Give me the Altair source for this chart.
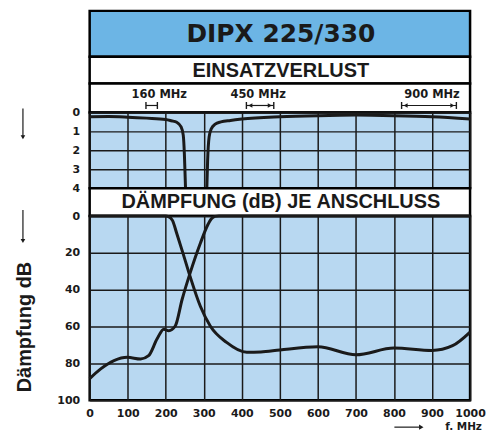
import altair as alt
import pandas as pd

# ---------------- data ----------------
ticks_x = [0, 100, 200, 300, 400, 500, 600, 700, 800, 900, 1000]
ticks_il = [0, 1, 2, 3, 4]
ticks_db = [0, 20, 40, 60, 80, 100]

# insertion loss (dB) - top panel
il_lp_f = [0, 50, 100, 150, 200, 215, 229, 240, 246, 249, 251, 252]
il_lp_v = [0.23, 0.22, 0.25, 0.3, 0.37, 0.44, 0.52, 0.75, 1.2, 2.2, 3.4, 4.0]
il_hp_f = [308, 310, 314, 320, 330, 345, 370, 400, 500, 600, 700, 800, 900, 1000]
il_hp_v = [4.0, 2.6, 1.3, 0.85, 0.62, 0.5, 0.42, 0.35, 0.23, 0.17, 0.14, 0.17, 0.23, 0.35]

# attenuation per port (dB) - bottom panel
at_lp_f = [0, 100, 200, 207, 218, 229, 245, 264, 291, 317, 360, 413, 450, 500, 600, 700, 800, 900, 954, 1000]
at_lp_v = [0, 0, 0, 0.3, 2.5, 9.5, 20, 32.8, 49, 59.7, 68.6, 74, 73.8, 72.7, 71, 75.3, 71.7, 73, 70.4, 63]
at_hp_f = [0, 29, 64, 99, 134, 155, 177, 195, 208, 225, 243, 264, 291, 310, 320, 330, 340, 500, 1000]
at_hp_v = [88.3, 83, 78.5, 76.7, 77.6, 75.8, 66.8, 61.4, 62.3, 59.7, 45.3, 31, 14.8, 5, 1.5, 0.2, 0, 0, 0]

# band markers
mk_lo = [148, 412, 820]
mk_hi = [178, 484, 964]
mk_lx = [183, 443, 900]
mk_lab = ["160 MHz", "450 MHz", "900 MHz"]
mk_arr = [False, True, True]

# ---------------- styling ----------------
W = 382
BLUE_DARK = "#6cb5e5"
BLUE_LIGHT = "#b8d8f1"
INK = "#1a1a1a"
NUMFONT = "DejaVu Sans"
SW = 2.5


def vbg(fill):
    return alt.ViewBackground(fill=fill, stroke="black", strokeWidth=SW)


def banner(text, h, size, font, fill, dy=0):
    return alt.Chart(pd.DataFrame({"t": [text]})).mark_text(
        font=font, fontSize=size, fontWeight="bold", color=INK,
        align="center", baseline="middle"
    ).encode(
        x=alt.value(W / 2 + 1), y=alt.value(h / 2 + dy), text="t:N"
    ).properties(width=W, height=h, view=vbg(fill))


xs = alt.Scale(domain=[0, 1000], nice=False)

# title panels
p_title = banner("DIPX 225/330", 46, 25, "DejaVu Sans", BLUE_DARK)
p_ein = banner("EINSATZVERLUST", 27, 20, "Liberation Sans", "white", 1)

# marker band
mk = pd.DataFrame({"lo": mk_lo, "hi": mk_hi, "lx": mk_lx, "lab": mk_lab, "arr": mk_arr})
mb = alt.Chart(mk)
m_line = mb.mark_rule(color=INK, strokeWidth=1.2).encode(
    x=alt.X("lo:Q", scale=xs, axis=None), x2="hi:Q", y=alt.value(22))
m_l = mb.mark_rule(color=INK, strokeWidth=1.4).encode(
    x=alt.X("lo:Q", scale=xs, axis=None), y=alt.value(18.5), y2=alt.value(25.5))
m_r = mb.mark_rule(color=INK, strokeWidth=1.4).encode(
    x=alt.X("hi:Q", scale=xs, axis=None), y=alt.value(18.5), y2=alt.value(25.5))
m_al = mb.transform_filter("datum.arr").mark_point(
    shape="triangle-left", filled=True, size=22, color=INK, opacity=1, xOffset=4
).encode(x=alt.X("lo:Q", scale=xs, axis=None), y=alt.value(22))
m_ar = mb.transform_filter("datum.arr").mark_point(
    shape="triangle-right", filled=True, size=22, color=INK, opacity=1, xOffset=-4
).encode(x=alt.X("hi:Q", scale=xs, axis=None), y=alt.value(22))
m_txt = mb.mark_text(font=NUMFONT, fontSize=11.5, fontWeight="bold", color=INK).encode(
    x=alt.X("lx:Q", scale=xs, axis=None), y=alt.value(11), text="lab:N")
p_mark = alt.layer(m_line, m_l, m_r, m_al, m_ar, m_txt).properties(
    width=W, height=29, view=vbg("white"))


def series_df(f1, v1, f2, v2):
    return pd.DataFrame({
        "f": f1 + f2,
        "v": v1 + v2,
        "s": ["a"] * len(f1) + ["b"] * len(f2),
        "i": list(range(len(f1))) + list(range(len(f2))),
    })


grid_kw = dict(grid=True, gridColor=INK, gridWidth=1.5, gridOpacity=1,
               ticks=False, domain=False, title=None)
lab_kw = dict(labelFont=NUMFONT, labelFontSize=11, labelFontWeight="bold",
              labelColor=INK, labelPadding=10)

one = pd.DataFrame({"a": [0]})


def down_arrow(y0, y1):
    r = alt.Chart(one).mark_rule(color=INK, strokeWidth=1.2).encode(
        x=alt.value(-67), y=alt.value(y0), y2=alt.value(y1))
    h = alt.Chart(one).mark_point(shape="triangle-down", filled=True, size=22,
                                  color=INK, opacity=1).encode(
        x=alt.value(-67), y=alt.value(y1 + 1))
    return [r, h]


# top panel: insertion loss
df_il = series_df(il_lp_f, il_lp_v, il_hp_f, il_hp_v)
il_line = alt.Chart(df_il).mark_line(color=INK, strokeWidth=3, interpolate="monotone").encode(
    x=alt.X("f:Q", scale=xs, axis=alt.Axis(values=ticks_x, labels=False, **grid_kw)),
    y=alt.Y("v:Q", scale=alt.Scale(domain=[0, 4], reverse=True, nice=False),
            axis=alt.Axis(values=ticks_il, format="d", **grid_kw, **lab_kw)),
    detail="s:N", order="i:Q")
p_il = alt.layer(il_line, *down_arrow(-4, 24)).properties(
    width=W, height=76, view=vbg(BLUE_LIGHT))

p_dae = banner("DÄMPFUNG (dB) JE ANSCHLUSS", 28, 20, "Liberation Sans", "white")

# bottom panel: attenuation
df_at = series_df(at_lp_f, at_lp_v, at_hp_f, at_hp_v)
at_line = alt.Chart(df_at).mark_line(color=INK, strokeWidth=3, interpolate="monotone").encode(
    x=alt.X("f:Q", scale=xs,
            axis=alt.Axis(values=ticks_x, format="d", labelFlush=False,
                          labelBaseline="top", **grid_kw,
                          **{**lab_kw, "labelPadding": 7})),
    y=alt.Y("v:Q", scale=alt.Scale(domain=[0, 100], reverse=True, nice=False),
            axis=alt.Axis(values=ticks_db, format="d",
                          **{**grid_kw, "title": "Dämpfung dB"}, **lab_kw,
                          titleFont="Liberation Sans", titleFontSize=20,
                          titleFontWeight="bold", titleColor=INK,
                          titlePadding=22, titleY=111)),
    detail="s:N", order="i:Q")
FY = 212
f_rule = alt.Chart(one).mark_rule(color=INK, strokeWidth=1.2).encode(
    x=alt.value(306), x2=alt.value(331), y=alt.value(FY))
f_head = alt.Chart(one).mark_point(shape="triangle-right", filled=True, size=26,
                                   color=INK, opacity=1).encode(
    x=alt.value(333), y=alt.value(FY))
f_txt = alt.Chart(pd.DataFrame({"t": ["f. MHz"]})).mark_text(
    font=NUMFONT, fontSize=10.5, fontWeight="bold", color=INK,
    align="left", baseline="middle").encode(
    x=alt.value(357), y=alt.value(FY), text="t:N")
p_at = alt.layer(at_line, *down_arrow(-6, 24), f_rule, f_head, f_txt).properties(
    width=W, height=185, view=vbg(BLUE_LIGHT))

chart = alt.vconcat(p_title, p_ein, p_mark, p_il, p_dae, p_at,
                    spacing=0, bounds="flush").properties(
    padding={"left": 5, "top": 0, "right": 0, "bottom": 0},
    background="white")

chart.save("out.html", embed_options={"renderer": "svg", "actions": False})
